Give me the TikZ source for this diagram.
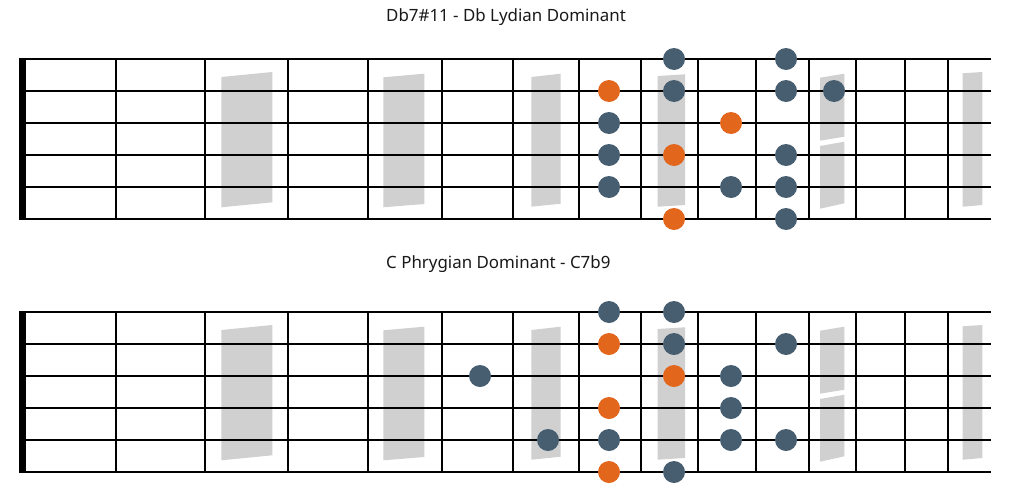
\documentclass[tikz,border=0pt]{standalone}
\usepackage{fontspec}
\setmainfont{Noto Sans}
\definecolor{dotblue}{HTML}{475D70}
\definecolor{dotorange}{HTML}{E2661C}
\definecolor{inlaygray}{HTML}{D0D0D0}
\begin{document}
\begin{tikzpicture}[x=1pt,y=-1pt,
  dotb/.style={circle,fill=dotblue,inner sep=0pt,minimum size=22pt},
  doto/.style={circle,fill=dotorange,inner sep=0pt,minimum size=22pt},
  wire/.style={line width=1.4pt,black},
  inlay/.style={fill=inlaygray},
  nut/.style={fill=black},
  title/.style={anchor=west,inner sep=0pt,font=\fontsize{16.9}{19}\selectfont,text=black!90}]
\useasboundingbox (0,0) rectangle (1024,498);
\foreach \oy in {0,253}{
  % inlays
  \fill[inlay] (221.3,77+\oy) -- (272.3,72+\oy) -- (272.3,202.3+\oy) -- (221.3,207.3+\oy) -- cycle;
  \fill[inlay] (383.3,77.3+\oy) -- (424.3,73.7+\oy) -- (424.3,204+\oy) -- (383.3,207.3+\oy) -- cycle;
  \fill[inlay] (531.3,77+\oy) -- (560.7,73.7+\oy) -- (560.7,203.7+\oy) -- (531.3,206.7+\oy) -- cycle;
  \fill[inlay] (657.7,76+\oy) -- (685,74.3+\oy) -- (685,205+\oy) -- (657.7,206.7+\oy) -- cycle;
  \fill[inlay] (820,77.7+\oy) -- (844.3,73.7+\oy) -- (844.3,136.7+\oy) -- (820,140.7+\oy) -- cycle;
  \fill[inlay] (820,146+\oy) -- (844.3,141.7+\oy) -- (844.3,203.3+\oy) -- (820,208.7+\oy) -- cycle;
  \fill[inlay] (962.7,73.3+\oy) -- (982.3,72+\oy) -- (982.3,205+\oy) -- (962.7,206.7+\oy) -- cycle;
  % strings
  \foreach \s in {59,91,123,155,187,219}{
    \draw[wire] (22,\s+\oy) -- (990.5,\s+\oy);
  }
  % frets
  \foreach \f in {116,205,288,368,442,513,579,641,698,756,809,856,905,948}{
    \draw[wire] (\f,59+\oy) -- (\f,219+\oy);
  }
  % nut
  \fill[nut] (19,58+\oy) rectangle (25.5,220+\oy);
}
% titles
\node[title] (title1) at (386,17) {Db7\#11 - Db Lydian Dominant};
\node[title] (title2) at (386,264) {C Phrygian Dominant - C7b9};
% top board dots
\node[doto] (a1) at (609,91) {};
\node[dotb] (a2) at (609,123) {};
\node[dotb] (a3) at (609,155) {};
\node[dotb] (a4) at (609,187) {};
\node[dotb] (a5) at (674,59) {};
\node[dotb] (a6) at (674,91) {};
\node[doto] (a7) at (674,155) {};
\node[doto] (a8) at (674,219) {};
\node[doto] (a9) at (731,123) {};
\node[dotb] (a10) at (731,187) {};
\node[dotb] (a11) at (786,59) {};
\node[dotb] (a12) at (786,91) {};
\node[dotb] (a13) at (786,155) {};
\node[dotb] (a14) at (786,187) {};
\node[dotb] (a15) at (786,219) {};
\node[dotb] (a16) at (834,91) {};
% bottom board dots
\node[dotb] (b1) at (609,312) {};
\node[doto] (b2) at (609,344) {};
\node[doto] (b3) at (609,408) {};
\node[dotb] (b4) at (609,440) {};
\node[doto] (b5) at (609,472) {};
\node[dotb] (b6) at (480,376) {};
\node[dotb] (b7) at (548,440) {};
\node[dotb] (b8) at (674,312) {};
\node[dotb] (b9) at (674,344) {};
\node[doto] (b10) at (674,376) {};
\node[dotb] (b11) at (674,472) {};
\node[dotb] (b12) at (731,376) {};
\node[dotb] (b13) at (731,408) {};
\node[dotb] (b14) at (731,440) {};
\node[dotb] (b15) at (786,344) {};
\node[dotb] (b16) at (786,440) {};
\end{tikzpicture}
\end{document}
